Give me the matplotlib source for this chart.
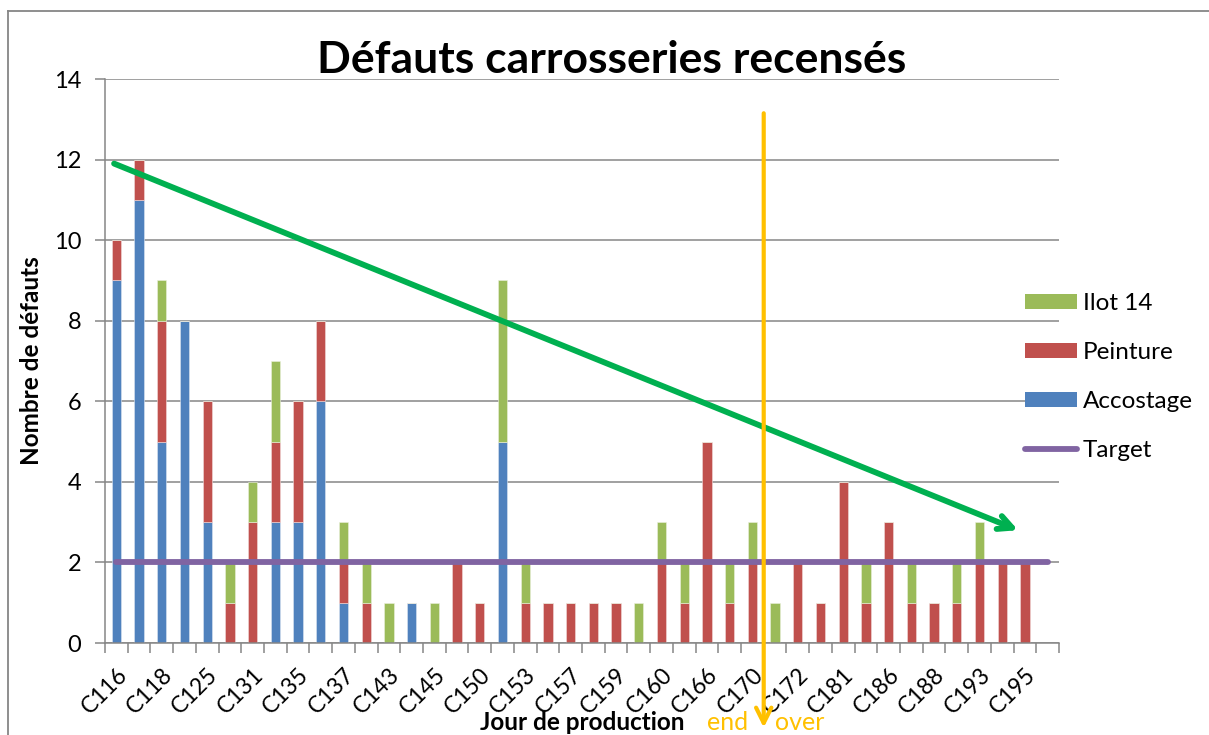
import matplotlib
matplotlib.use("Agg")
import matplotlib.pyplot as plt
from matplotlib.lines import Line2D
from matplotlib.patches import Patch
import numpy as np

plt.rcParams['font.family'] = ['Lato', 'DejaVu Sans']

categories = ["C116", "C117", "C118", "C120", "C125", "C128", "C131", "C133", "C135", "C136",
              "C137", "C140", "C143", "C144", "C145", "C148", "C150", "C151", "C153", "C155",
              "C157", "C158", "C159", "C159b", "C160", "C163", "C166", "C168", "C170", "C171",
              "C172", "C178", "C181", "C184", "C186", "C187", "C188", "C190", "C193", "C194",
              "C195", "C196"]
accostage = [9, 11, 5, 8, 3, 0, 0, 3, 3, 6,
             1, 0, 0, 1, 0, 0, 0, 5, 0, 0,
             0, 0, 0, 0, 0, 0, 0, 0, 0, 0,
             0, 0, 0, 0, 0, 0, 0, 0, 0, 0,
             0, 0]
peinture = [1, 1, 3, 0, 3, 1, 3, 2, 3, 2,
            1, 1, 0, 0, 0, 2, 1, 0, 1, 1,
            1, 1, 1, 0, 2, 1, 5, 1, 2, 0,
            2, 1, 4, 1, 3, 1, 1, 1, 2, 2,
            2, 0]
ilot14 = [0, 0, 1, 0, 0, 1, 1, 2, 0, 0,
          1, 1, 1, 0, 1, 0, 0, 4, 1, 0,
          0, 0, 0, 1, 1, 1, 0, 1, 1, 1,
          0, 0, 0, 1, 0, 1, 0, 1, 1, 0,
          0, 0]
target = [2] * 42
shown_labels = categories[::2]

trend_start = (-0.1, 11.9)
trend_end = (39.7, 2.8)
end_over_x = 28.5

C_BLUE = "#4F81BD"
C_RED = "#C0504D"
C_GREEN = "#9BBB59"
C_PURPLE = "#8064A2"
C_GRID = "#868686"

W, H = 1209, 735
fig = plt.figure(figsize=(W / 100, H / 100), dpi=100)
ax = fig.add_axes([105 / W, 1 - 643 / H, (1059 - 105) / W, (643 - 79) / H])

x = np.arange(len(categories))
a = np.array(accostage)
p = np.array(peinture)
g = np.array(ilot14)
bw = 0.41
ax.bar(x, a, bw, color=C_BLUE, edgecolor="#DCE6F2", linewidth=0.4, zorder=2)
ax.bar(x, p, bw, bottom=a, color=C_RED, edgecolor="#F2DCDB", linewidth=0.4, zorder=2)
ax.bar(x, g, bw, bottom=a + p, color=C_GREEN, edgecolor="#EBF1DE", linewidth=0.4, zorder=2)
ax.plot(x, target, color=C_PURPLE, lw=4.2, solid_capstyle="round", zorder=3)

ax.set_xlim(-0.5, len(categories) - 0.5)
ax.set_ylim(0, 14)
ax.set_yticks(np.arange(0, 15, 2))
ax.yaxis.grid(True, color=C_GRID, lw=1.1, zorder=0)
ax.set_axisbelow(True)
ax.set_xticks(x[::2])
ax.set_xticklabels(shown_labels, rotation=45, ha="right", rotation_mode="anchor", fontsize=16.5)
ax.tick_params(axis="x", length=0, pad=15)
ax.set_xticks(np.arange(-0.5, len(categories), 1), minor=True)
ax.tick_params(axis="x", which="minor", length=7, color=C_GRID, width=1.1)
ax.tick_params(axis="y", length=7, color=C_GRID, width=1.1, labelsize=17, pad=10)
for s in ["top", "right"]:
    ax.spines[s].set_visible(False)
for s in ["left", "bottom"]:
    ax.spines[s].set_color(C_GRID)
    ax.spines[s].set_linewidth(1.1)

ax.set_ylabel("Nombre de défauts", fontsize=17.5, fontweight="bold", va="center")
ax.yaxis.set_label_coords((32 - 105) / 954, 0.5)
ax.set_xlabel("Jour de production", fontsize=17.5, fontweight="bold", va="center")
ax.xaxis.set_label_coords(0.5, -(722 - 643) / 564)

fig.text(612 / W, 1 - 60 / H, "Défauts carrosseries recensés", ha="center", va="center",
         fontsize=32, fontweight="bold")

# trend arrow
ax.annotate("", xy=trend_end, xytext=trend_start,
            arrowprops=dict(arrowstyle="->,head_length=1.0,head_width=0.5", color="#00B050", lw=4.2,
                            shrinkA=0, shrinkB=0, capstyle="round", joinstyle="round"),
            annotation_clip=False, zorder=4)
# end / over arrow
ax.annotate("", xy=(end_over_x, -2.1), xytext=(end_over_x, 13.15),
            xycoords="data", arrowprops=dict(arrowstyle="->,head_length=1.1,head_width=0.55",
                                             color="#FFC000", lw=3.0, shrinkA=0, shrinkB=0),
            annotation_clip=False, zorder=4)
fig.text(728 / W, 1 - 722 / H, "end", ha="center", va="center", fontsize=18, color="#FFC000")
fig.text(800 / W, 1 - 722 / H, "over", ha="center", va="center", fontsize=18, color="#FFC000")

handles = [Patch(facecolor=C_GREEN, label="Ilot 14"),
           Patch(facecolor=C_RED, label="Peinture"),
           Patch(facecolor=C_BLUE, label="Accostage"),
           Line2D([], [], color=C_PURPLE, lw=4.2, solid_capstyle="round", label="Target")]
fig.legend(handles=handles, loc="center left", bbox_to_anchor=(1015 / W, 1 - 377 / H),
           frameon=False, fontsize=17.5, handlelength=2.14, handleheight=0.62,
           labelspacing=1.15, handletextpad=0.25, borderaxespad=0)

# outer chart border (left and top only visible)
fig.add_artist(Line2D([8 / W, 8 / W], [0, 1 - 11 / H], color=C_GRID, lw=1.3, transform=fig.transFigure))
fig.add_artist(Line2D([8 / W, 1], [1 - 11 / H, 1 - 11 / H], color=C_GRID, lw=1.3, transform=fig.transFigure))

fig.savefig("out.png", dpi=100)
